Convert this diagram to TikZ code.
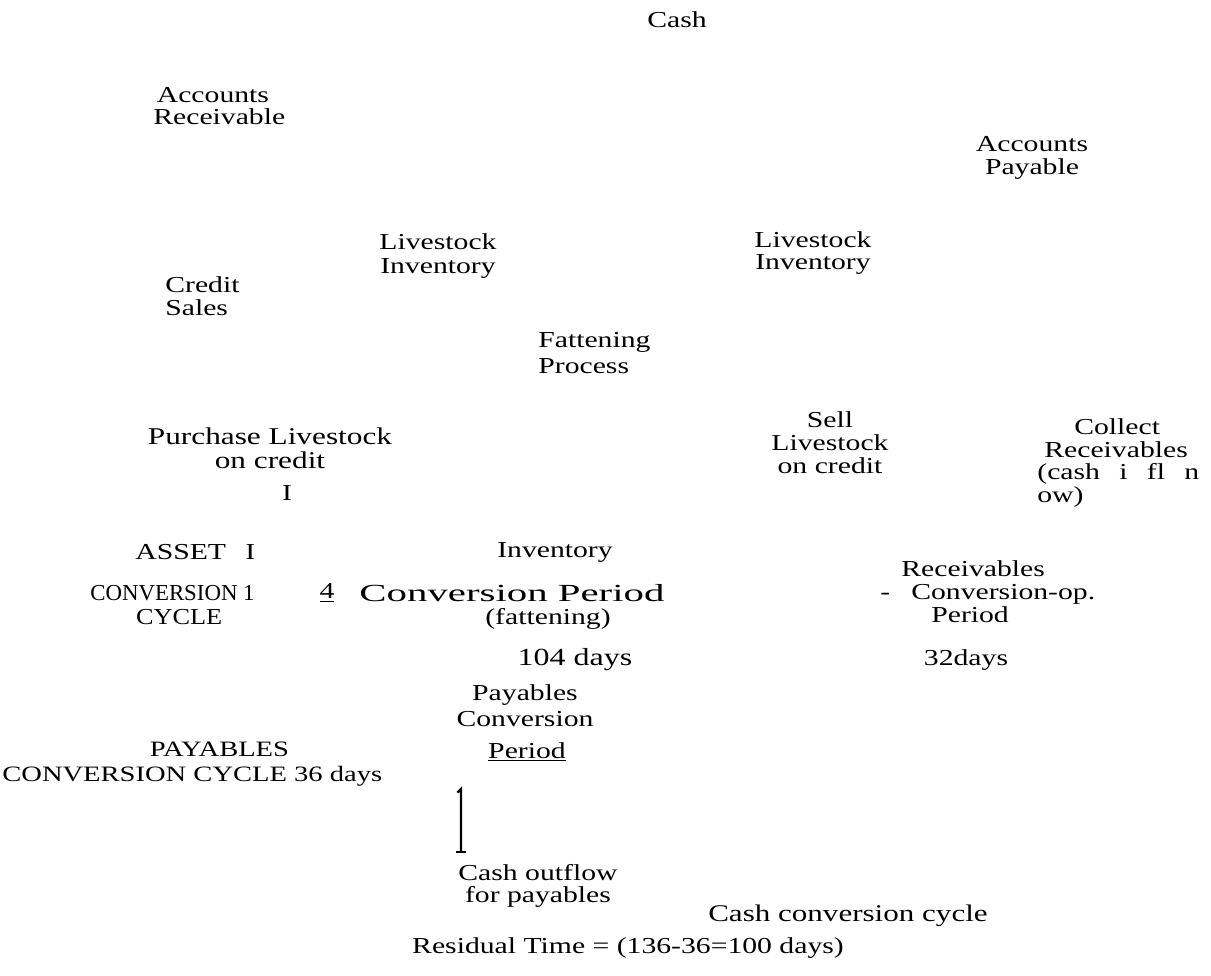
\documentclass[tikz,border=0pt]{standalone}
\usepackage{fontspec}
\setmainfont{Liberation Serif}
\newfontfamily\wide[FakeStretch=1.3]{Liberation Serif}
\newfontfamily\wider[FakeStretch=1.66]{Liberation Serif}

\begin{document}
\begin{tikzpicture}[x=0.02cm, y=-0.02cm,
    lbl/.style={inner sep=0pt, align=center, font=\wide\fontsize{13}{13}\selectfont},
    lbll/.style={lbl, align=left, anchor=west},
    plain/.style={inner sep=0pt, align=left, anchor=west, font=\fontsize{13}{13.5}\selectfont}]
  \useasboundingbox (0,0) rectangle (1211,976);

  \node[lbl] (cash) at (677,20) {Cash};
  \node[lbll] (acctrec) at (153,106) {\hspace*{2pt}Accounts\\Receivable};
  \node[lbl] (acctpay) at (1032,158) {Accounts\\Payable};

  \node[lbl] (stockl) at (438,256) {Livestock\\[1pt]Inventory};
  \node[lbl] (stockr) at (813,253) {Livestock\\Inventory};
  \node[lbll] (credit) at (165,296) {Credit\\Sales};
  \node[lbll] (fatten) at (538,353) {Fattening\\[2pt]Process};

  \node[lbl, font=\wide\fontsize{13.7}{13.7}\selectfont] (buy) at (270,448) {Purchase Livestock\\on credit};
  \node[lbl] (mark) at (287,493) {I};
  \node[lbl] (sell) at (830,443) {Sell\\Livestock\\on credit};
  \node[lbll] (collect) at (1037,463) {\hspace*{21pt}Collect\\\hspace*{4pt}Receivables\\[-0.5pt](cash\hspace{11pt}i\hspace{11pt}fl\hspace{11pt}n\\ow)};

  % conversion periods
  \node[lbll] (asset) at (135,552) {ASSET\hspace{11pt}I};
  \node[lbl] (invtop) at (555,552) {Inventory};
  \node[plain] (cycle) at (90,605) {CONVERSION 1\\\hspace*{26pt}\scalebox{1.15}[1]{CYCLE}};
  \node[lbl] (four) at (327,593) {\underline{4}};
  \node[lbl, font=\wider\fontsize{14}{14}\selectfont] (invperiod) at (512,593) {Conversion Period};
  \node[lbl] (fattening) at (548,619) {(fattening)};
  \node[lbl, font=\wide\fontsize{14}{14}\selectfont] (d104) at (575,660) {104 days};
  \node[lbll] (recv) at (880,592) {\hspace*{12pt}Receivables\\-\hspace{12pt}Conversion-op.\\\hspace*{29pt}Period};
  \node[lbl] (d32) at (966,660) {32days};

  \node[lbl] (payconv) at (525,706) {Payables\\[2pt]Conversion};
  \node[lbl] (period) at (527,752) {\underline{Period}};
  \node[lbll, font=\wide\fontsize{12.5}{14}\selectfont] (paycycle) at (2,764) {\hspace*{84pt}PAYABLES\\CONVERSION CYCLE 36 days};

  % cash outflow mark
  \coordinate (bartop) at (461,789);
  \coordinate (barbot) at (461,852);
  \draw[line width=1.3pt] ([xshift=-2pt,yshift=-2pt]bartop) -- (bartop) -- (barbot);
  \draw[line width=0.8pt] ([xshift=-3pt]barbot) -- ([xshift=3pt]barbot);

  \node[lbl] (outflow) at (538,886) {Cash outflow\\for payables};
  \node[lbl, font=\wide\fontsize{13.6}{13.6}\selectfont] (ccc) at (848,916) {Cash conversion cycle};
  \node[lbl] (resid) at (628,948) {Residual Time = (136-36=100 days)};
\end{tikzpicture}
\end{document}
